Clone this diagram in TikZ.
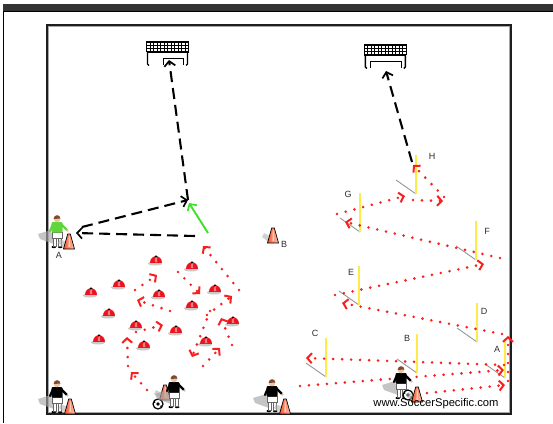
\documentclass[tikz,border=0pt]{standalone}
\usepackage{fontspec}
\setmainfont{Liberation Sans}
\usetikzlibrary{arrows.meta}

\definecolor{runred}{RGB}{250,30,30}
\definecolor{passgreen}{RGB}{60,225,40}
\definecolor{poleyellow}{RGB}{255,235,70}
\definecolor{shadowgray}{RGB}{150,150,150}
\definecolor{barcolor}{RGB}{51,51,51}
\definecolor{conered}{RGB}{235,20,30}
\definecolor{coneorange}{RGB}{250,105,55}
\definecolor{skin}{RGB}{235,195,165}
\definecolor{hair}{RGB}{125,75,45}
\definecolor{keepergreen}{RGB}{95,215,60}
\definecolor{labelgray}{RGB}{45,45,45}
\definecolor{framedark}{RGB}{30,30,30}

\tikzset{
  pass/.style={draw=black, line width=2.1pt, dash pattern=on 11pt off 6pt,
    -{Straight Barb[length=5pt,width=11pt,line width=1.7pt]}},
  kick/.style={draw=passgreen, line width=1.9pt,
    -{Straight Barb[length=5pt,width=11pt,line width=1.7pt]}},
  dribble/.style={draw=runred, line width=2.9pt, line cap=round,
    dash pattern=on 0pt off 9pt,
    -{Straight Barb[length=4.5pt,width=10pt,line width=2pt]}},
  lbl/.style={text=labelgray, font=\fontsize{9}{9}\selectfont, inner sep=0pt},
  pics/goal/.style={code={
    \foreach \gx in {-21,-17.5,...,21} \draw[line width=.8pt] (\gx,0) -- (\gx,10);
    \foreach \gy in {3.3,6.6} \draw[line width=.7pt] (-21,\gy) -- (21,\gy);
    \draw[line width=1.7pt] (-21.5,0) -- (21.5,0);
    \draw[line width=1.3pt] (-21,10) -- (21,10);
    \draw[line width=1.4pt, line join=round] (-20,10) -- (-20,22) -- (-18.5,23.5);
    \draw[line width=1.4pt, line join=round] (20,10) -- (20,22) -- (18.5,23.5);
    \draw[line width=1pt] (#1,23) -- (#1,16) -- (16,16) -- (16,23);
  }},
  pics/pole/.style={code={
    \draw[shadowgray, line width=.9pt] (0,0) -- (-20,-14);
    \draw[poleyellow, line width=1.3pt] (0,0) -- (0,-39);
  }},
  pics/disc/.style={code={
    \fill[black!30, opacity=.7] (-1,0.5) ellipse [x radius=7, y radius=2];
    \fill[conered] (-6,0) .. controls (-6,-9.5) and (6,-9.5) .. (6,0) -- cycle;
    \fill[white, opacity=.45] (-1.2,-1) .. controls (-1.6,-5) and (0.2,-6.5) .. (1.2,-6)
      .. controls (0.6,-4) and (0.8,-2) .. (1.4,-1) -- cycle;
    \fill[black] (0,-6.6) ellipse [x radius=1.5, y radius=1];
  }},
  pics/tcone/.style={code={
    \fill[black!30, opacity=.6] (-3,0) -- (-11,-6) -- (-9,-10) -- (-1,-6) -- cycle;
    \draw[line width=.7pt, left color=coneorange!85!red, right color=coneorange!40!white]
      (-5.5,0) -- (-1.3,-15) -- (1.3,-15) -- (5.5,0) -- cycle;
    \fill[white, opacity=.55] (-.6,-2) -- (-.2,-13) -- (.6,-13) -- (1.2,-2) -- cycle;
  }},
  pics/ball/.style={code={
    \draw[line width=1.2pt, fill=white] (0,0) circle[radius=5];
    \fill[black] (0,0) circle[radius=1.8];
    \fill[black] (-3.5,-2) circle[radius=1];
    \fill[black] (3.2,2.2) circle[radius=1];
  }},
  pics/player/.style={code={
    % shadow
    \fill[black!35, opacity=.65] (-3,-3) -- (-17,-8) -- (-19,-13) -- (-6,-17) -- cycle;
    % boots and legs
    \fill[black] (-3.2,0) ellipse [x radius=2.3, y radius=1.2];
    \fill[black] (3.2,0) ellipse [x radius=2.3, y radius=1.2];
    \draw[black!60, line width=.4pt, fill=white] (-4,-1) rectangle (-1.2,-9);
    \draw[black!60, line width=.4pt, fill=white] (1.2,-1) rectangle (4,-9);
    % shorts
    \draw[black!60, line width=.4pt, fill=white] (-5,-8.5) rectangle (5,-15);
    % shirt and arms
    \draw[#1, line width=2.2pt, line cap=round] (4,-23) -- (10,-17);
    \draw[#1, line width=2.2pt, line cap=round] (-4,-23) -- (-7,-16);
    \fill[skin] (10.5,-16.5) circle[radius=1.3];
    \fill[#1, rounded corners=1pt] (-5.5,-14.5) rectangle (5.5,-25);
    % head
    \fill[skin] (0,-28) circle[radius=3.3];
    \fill[hair] (-3.4,-28) .. controls (-3.4,-33) and (3.4,-33) .. (3.4,-28.5) -- cycle;
  }}
}

\begin{document}
\begin{tikzpicture}[x=1pt, y=-1pt]
\useasboundingbox (0,0) rectangle (553,423);

% page header bar and outer rules
\fill[barcolor] (3,4) rectangle (553,11);
\draw[black, line width=.8pt] (3,11.3) -- (553,11.3);
\draw[black, line width=.8pt] (3.4,11) -- (3.4,423);

% field
\draw[framedark, line width=2.2pt] (47,25) rectangle (511,414);
\draw[black!35, line width=.6pt] (48.6,26.6) rectangle (509.4,412.4);

% goals
\pic at (167.5,42) {goal=-4.5};
\pic at (385.3,45) {goal=-14.5};
\coordinate (goalL) at (169,60);
\coordinate (goalR) at (386,71);

% ---------- left drill ----------
% disc cones
\foreach \cx/\cy in {156/263, 192/269, 91/295, 119/287, 159/297, 215/292, 192/308,
                     109/316, 136/328, 176/333, 233/324, 99/342, 144/348, 206/344}
  \pic at (\cx,\cy) {disc};

% dribbling runs through the cones
\foreach \sx/\sy/\ex/\ey [count=\i] in {
    147/390/131/372, 128/366/127/337, 136/332/163/325, 170/311/137/300,
    135/290/157/275, 178/272/200/294, 239/290/203/246, 207/315/232/296,
    232/345/221/318, 203/366/220/348, 210/311/192/357}
{
  \coordinate (dls\i) at (\sx,\sy);
  \coordinate (dle\i) at (\ex,\ey);
  \draw[dribble] (dls\i) -- (dle\i);
}

% players and cones
\pic at (57,247) {player=keepergreen};
\pic at (69,249) {tcone};
\node[lbl] (labAleft) at (59,255) {A};
\coordinate (playerA) at (76,233);

\pic at (57,412) {player=black};
\pic at (70,414) {tcone};

\pic at (165,400) {tcone};
\pic at (158,404) {ball};
\pic at (174,407) {player=black};

\pic at (272,411) {player=black};
\pic at (285,414) {tcone};

\pic at (273,243) {tcone};
\node[lbl] (labBcone) at (284,244) {B};

% passing sequence and finish
\coordinate (passFrom) at (195,236);
\coordinate (returnFrom) at (82,227);
\coordinate (shotSpot) at (188,200);
\coordinate (kickFrom) at (208,233);
\coordinate (kickTo) at (189,203);
\draw[pass] (passFrom) -- (playerA);
\draw[pass] (returnFrom) -- (shotSpot);
\draw[pass] (shotSpot) -- (goalL);
\draw[kick] (kickFrom) -- (kickTo);

% ---------- right drill ----------
% poles with shadows
\pic at (416,194) {pole};
\pic at (360,232) {pole};
\pic at (476,260) {pole};
\pic at (359,305) {pole};
\pic at (477,342) {pole};
\pic at (326,377) {pole};
\pic at (417,373) {pole};
\pic at (505,378) {pole};

\node[lbl] (labH) at (432,156) {H};
\node[lbl] (labG) at (348,194) {G};
\node[lbl] (labF) at (487,231) {F};
\node[lbl] (labE) at (351,272) {E};
\node[lbl] (labD) at (484,311) {D};
\node[lbl] (labC) at (315,333) {C};
\node[lbl] (labB) at (407,338) {B};
\node[lbl] (labA) at (497,349) {A};

% zig-zag dribble between the poles
\foreach \sx/\sy/\ex/\ey [count=\i] in {
    418/394/505/385, 300/386/504/370, 504/365/306/358, 508/381/508/336,
    502/334/342/303, 335/295/484/264, 500/258/345/222, 337/214/405/196,
    413/200/443/201, 444/197/413/165}
{
  \coordinate (drs\i) at (\sx,\sy);
  \coordinate (dre\i) at (\ex,\ey);
  \draw[dribble] (drs\i) -- (dre\i);
}

\coordinate (shotH) at (412,162);
\draw[pass] (shotH) -- (goalR);

\pic at (401,398) {player=black};
\pic at (408,395) {ball};
\pic at (417,402) {tcone};

\node[text=black, font=\fontsize{11.2}{11.2}\selectfont, inner sep=0pt] (site) at (436,404) {www.SoccerSpecific.com};
\end{tikzpicture}
\end{document}
